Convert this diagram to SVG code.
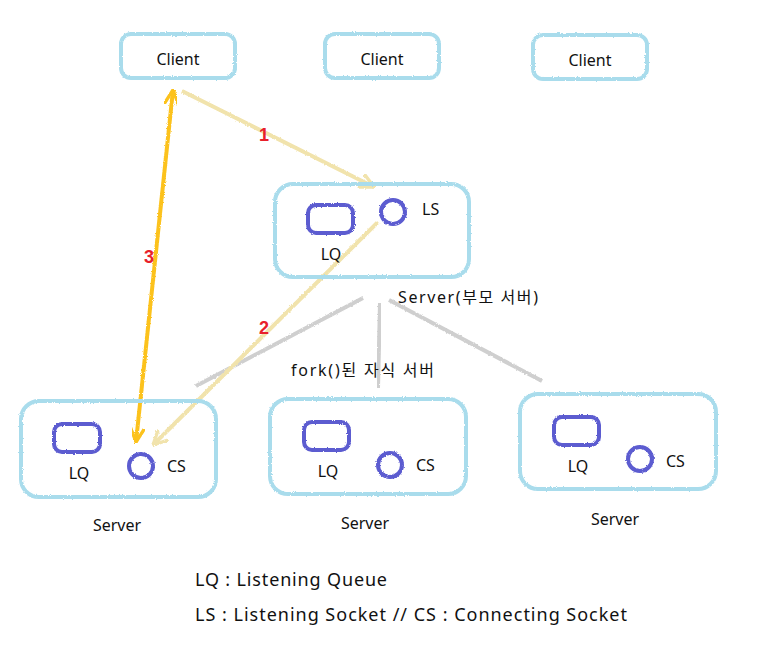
<svg xmlns="http://www.w3.org/2000/svg" width="771" height="668" viewBox="0 0 771 668">
<defs>
<filter id="rough" x="-10%" y="-10%" width="120%" height="120%">
<feTurbulence type="fractalNoise" baseFrequency="0.9" numOctaves="2" seed="3" result="n"/>
<feDisplacementMap in="SourceGraphic" in2="n" scale="2.5" xChannelSelector="R" yChannelSelector="G"/>
</filter>
<marker id="chevP" viewBox="0 0 12 12" refX="11" refY="6" markerWidth="16" markerHeight="16" markerUnits="userSpaceOnUse" orient="auto-start-reverse">
<path d="M1,1 L11,6 L1,11" fill="none" stroke="#f1e3ac" stroke-width="2.5" stroke-linecap="round" stroke-linejoin="round"/>
</marker>
<marker id="chevO" viewBox="0 0 12 12" refX="11" refY="6" markerWidth="16" markerHeight="16" markerUnits="userSpaceOnUse" orient="auto-start-reverse">
<path d="M1,1 L11,6 L1,11" fill="none" stroke="#fcc21e" stroke-width="2.5" stroke-linecap="round" stroke-linejoin="round"/>
</marker>
</defs>
<style>
.box{fill:none;stroke:#a9dcec;stroke-width:4;filter:url(#rough)}
.q{fill:none;stroke:#5b5bd0;stroke-width:4;filter:url(#rough)}
.t{font-family:"Noto Sans","Noto Sans CJK KR",sans-serif;font-size:16px;fill:#111}
.lg{font-family:"Noto Sans","Noto Sans CJK KR",sans-serif;font-size:18px;fill:#111}
.num{font-family:"Liberation Sans",Arial,sans-serif;font-size:18px;font-weight:bold;fill:#e8202a}
.fork{stroke:#cfcfcf;stroke-width:4;fill:none;filter:url(#rough)}
.pale{stroke:#f1e3ac;stroke-width:4;fill:none;filter:url(#rough)}
.gold{stroke:#fcc21e;stroke-width:4;fill:none;filter:url(#rough)}
</style>
<rect width="771" height="668" fill="#fff"/>

<g id="connectors">
<line class="fork" x1="363" y1="298" x2="196" y2="386"/>
<line class="fork" x1="380" y1="303" x2="378" y2="388"/>
<line class="fork" x1="389" y1="300" x2="542" y2="381"/>
<line class="pale" x1="182" y1="91" x2="374" y2="187" marker-end="url(#chevP)"/>
<line class="pale" x1="378" y1="222" x2="153" y2="445" marker-end="url(#chevP)"/>
<line class="gold" x1="173" y1="90" x2="136" y2="442" marker-start="url(#chevO)" marker-end="url(#chevO)"/>
<text class="num" x="264" y="141" text-anchor="middle">1</text>
<text class="num" x="264" y="334" text-anchor="middle">2</text>
<text class="num" x="149" y="263" text-anchor="middle">3</text>
</g>

<g id="client1">
<rect class="box" x="121" y="34" width="114" height="44" rx="10"/>
<text class="t" x="178" y="65" text-anchor="middle">Client</text>
</g>
<g id="client2">
<rect class="box" x="325" y="34" width="114" height="44" rx="10"/>
<text class="t" x="382" y="65" text-anchor="middle">Client</text>
</g>
<g id="client3">
<rect class="box" x="533" y="35" width="114" height="44" rx="10"/>
<text class="t" x="590" y="66" text-anchor="middle">Client</text>
</g>

<g id="parent-server">
<rect class="box" x="275" y="184" width="194" height="93" rx="18"/>
<rect class="q" x="308" y="205" width="45" height="28" rx="8"/>
<circle class="q" cx="393" cy="212" r="12"/>
<text class="t" x="422" y="215">LS</text>
<text class="t" x="331" y="260" text-anchor="middle">LQ</text>
<text class="t" x="398" y="303" textLength="140" lengthAdjust="spacing">Server(부모 서버)</text>
</g>

<text class="t" x="291" y="376" textLength="143" lengthAdjust="spacing">fork()된 자식 서버</text>

<g id="child-server1">
<rect class="box" x="21" y="401" width="195" height="96" rx="18"/>
<rect class="q" x="54" y="424" width="46" height="28" rx="8"/>
<circle class="q" cx="141" cy="466" r="12"/>
<text class="t" x="79" y="479" text-anchor="middle">LQ</text>
<text class="t" x="167" y="472">CS</text>
<text class="t" x="117" y="531" text-anchor="middle">Server</text>
</g>

<g id="child-server2">
<rect class="box" x="270" y="399" width="196" height="95" rx="18"/>
<rect class="q" x="304" y="422" width="45" height="28" rx="8"/>
<circle class="q" cx="390" cy="465" r="12"/>
<text class="t" x="328" y="477" text-anchor="middle">LQ</text>
<text class="t" x="416" y="471">CS</text>
<text class="t" x="365" y="529" text-anchor="middle">Server</text>
</g>

<g id="child-server3">
<rect class="box" x="520" y="394" width="196" height="95" rx="18"/>
<rect class="q" x="554" y="417" width="45" height="28" rx="8"/>
<circle class="q" cx="640" cy="459" r="12"/>
<text class="t" x="578" y="472" text-anchor="middle">LQ</text>
<text class="t" x="666" y="467">CS</text>
<text class="t" x="615" y="525" text-anchor="middle">Server</text>
</g>

<g id="legend">
<text class="lg" x="195" y="586" textLength="192" lengthAdjust="spacing">LQ : Listening Queue</text>
<text class="lg" x="195" y="621" textLength="432" lengthAdjust="spacing">LS : Listening Socket // CS : Connecting Socket</text>
</g>
</svg>
